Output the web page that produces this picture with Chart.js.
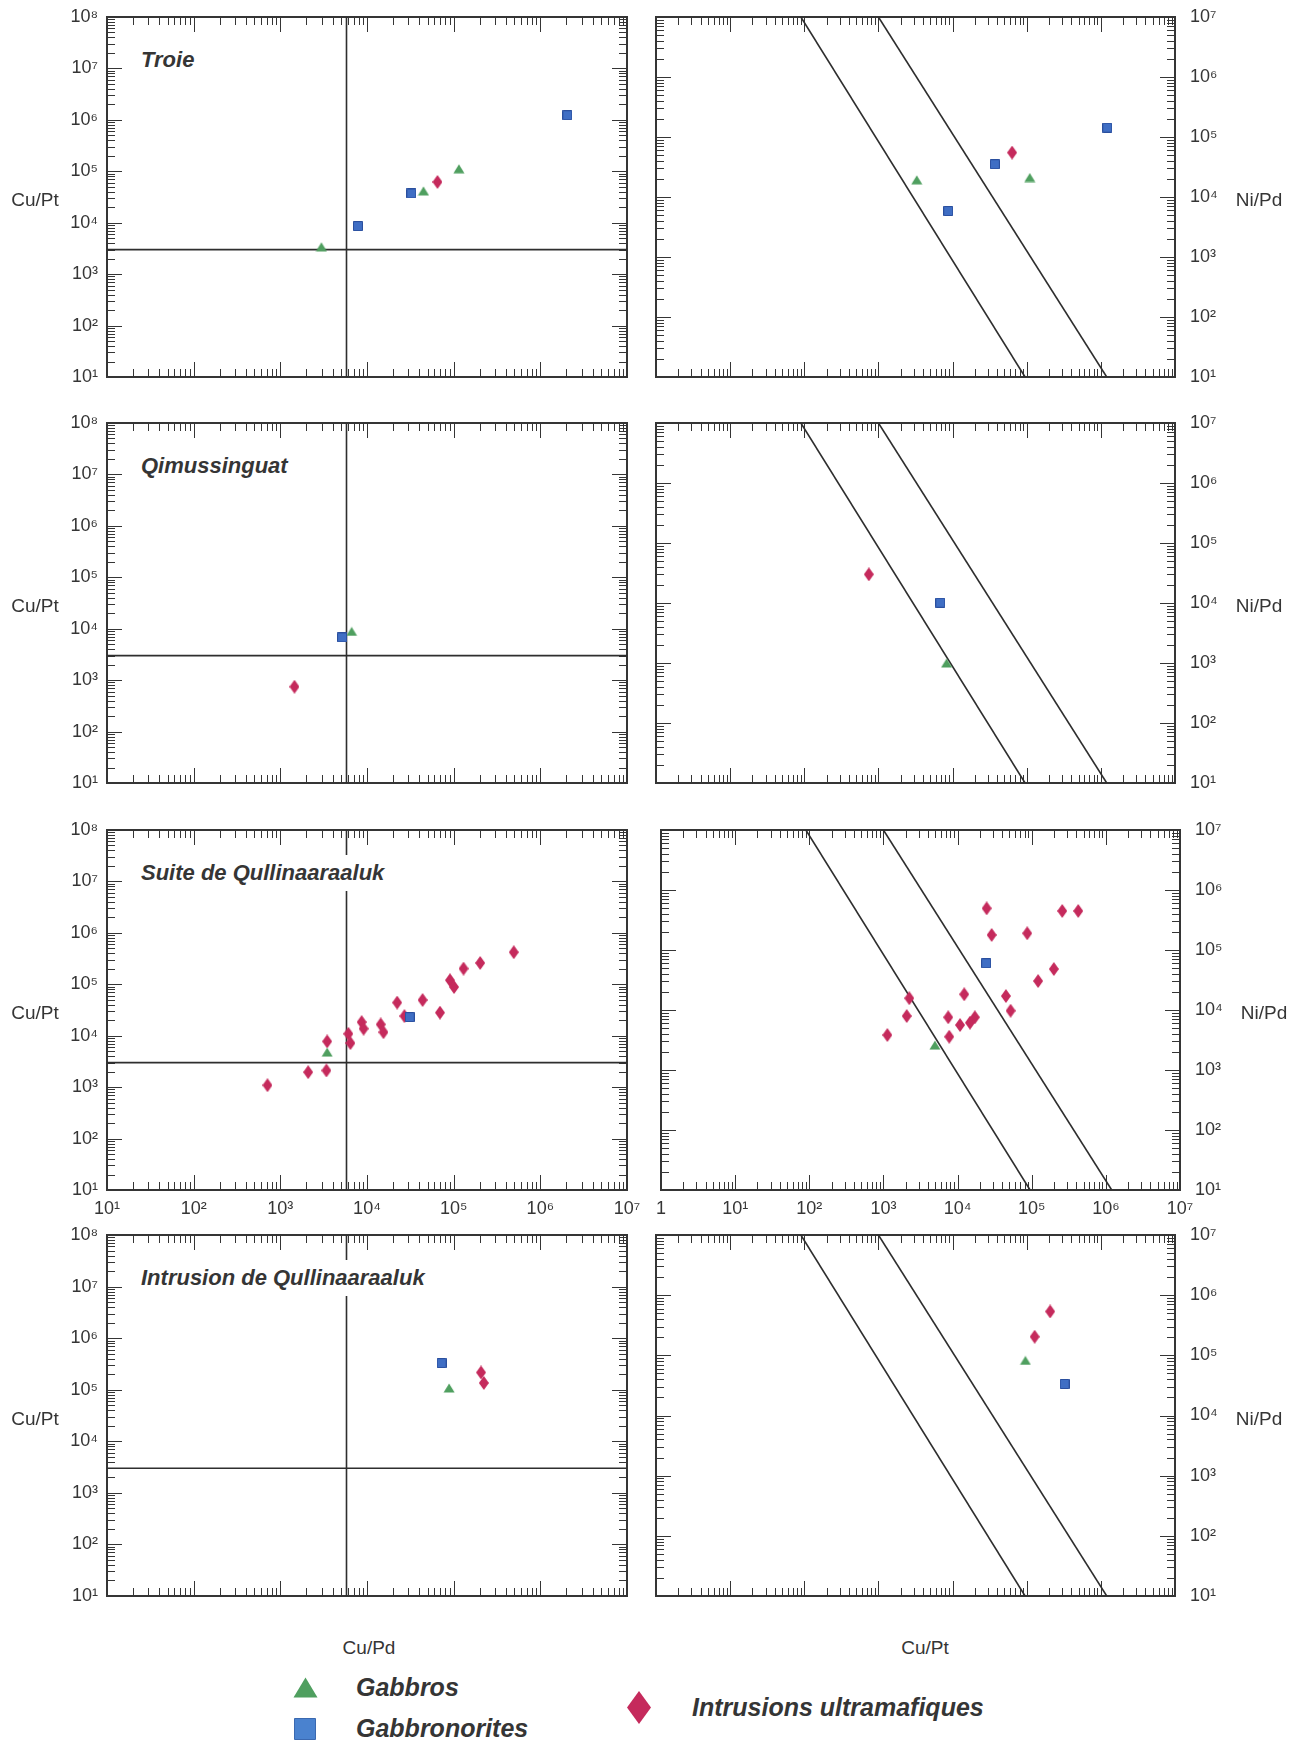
<!DOCTYPE html>
<html><head><meta charset="utf-8">
<script src="https://cdn.jsdelivr.net/npm/chart.js@4.4.1/dist/chart.umd.min.js"></script>
<style>
html,body{margin:0;padding:0;background:#fff;}
body{width:1299px;height:1740px;position:relative;overflow:hidden;font-family:"Liberation Sans",Arial,sans-serif;color:#353535;}
.t{position:absolute;white-space:nowrap;}
.title{font-weight:bold;font-style:italic;font-size:22px;background:#fff;line-height:36px;padding:0 4px;}
.ax{font-size:19px;transform:translate(-50%,-50%);}
.leg{font-weight:bold;font-style:italic;font-size:25px;transform:translateY(-50%);}
</style></head><body>
<script>
// ---------------- DATA ----------------
const panelNames = ['Troie', 'Qimussinguat', 'Suite de Qullinaaraaluk', 'Intrusion de Qullinaaraaluk'];
const seriesNames = ['Gabbros', 'Gabbronorites', 'Intrusions ultramafiques'];

const cuPdTicks = [1e1, 1e2, 1e3, 1e4, 1e5, 1e6, 1e7];          // left x
const cuPtTicksLeft = [1e1, 1e2, 1e3, 1e4, 1e5, 1e6, 1e7, 1e8];  // left y
const cuPtTicksRight = [1, 1e1, 1e2, 1e3, 1e4, 1e5, 1e6, 1e7];  // right x
const niPdTicks = [1e1, 1e2, 1e3, 1e4, 1e5, 1e6, 1e7];          // right y

const mantleCuPd = 5800;   // vertical reference line (left panels)
const mantleCuPt = 3000;   // horizontal reference line (left panels)
const diag1CuPt = [90, 95000];   const diag1NiPd = [1e7, 1e1];
const diag2CuPt = [1000, 1.2e6]; const diag2NiPd = [1e7, 1e1];

// Troie
const troieGabCuPd = [2980, 44800, 115000];
const troieGabCuPt = [3400, 41600, 112000];
const troieGnCuPd = [7850, 32500, 2.05e6];
const troieGnCuPt = [8600, 37000, 1.23e6];
const troieUmCuPd = [65000];
const troieUmCuPt = [62000];
const troieGabCuPt2 = [3290, 110000];
const troieGabNiPd = [19300, 21100];
const troieGnCuPt2 = [8740, 37200, 1.22e6];
const troieGnNiPd = [5830, 35200, 143000];
const troieUmCuPt2 = [63500];
const troieUmNiPd = [55000];

// Qimussinguat
const qimGabCuPd = [6650];
const qimGabCuPt = [8870];
const qimGnCuPd = [5160];
const qimGnCuPt = [6780];
const qimUmCuPd = [1455];
const qimUmCuPt = [745];
const qimGabCuPt2 = [8300];
const qimGabNiPd = [1000];
const qimGnCuPt2 = [6830];
const qimGnNiPd = [10100];
const qimUmCuPt2 = [743];
const qimUmNiPd = [30000];

// Suite de Qullinaaraaluk
const suiteGabCuPd = [3470];
const suiteGabCuPt = [4800];
const suiteGnCuPd = [31100];
const suiteGnCuPt = [23000];
const suiteUmCuPd = [711, 2094, 3400, 3470, 6090, 6440, 8670, 9140, 14400, 15500, 22300, 27000, 43800, 69500, 90600, 101000, 130000, 202000, 494000];
const suiteUmCuPt = [1090, 1955, 2110, 7740, 10900, 7180, 18400, 13700, 16600, 11700, 44000, 24100, 49400, 28100, 120000, 88500, 202000, 260000, 420000];
const suiteGabCuPt2 = [4950];
const suiteGabNiPd = [2600];
const suiteGnCuPt2 = [24300];
const suiteGnNiPd = [60000];
const suiteUmCuPt2 = [24700, 258000, 424000, 28800, 86900, 199000, 122000, 12300, 44900, 2230, 51900, 2060, 7480, 17100, 14700, 10800, 1130, 7710];
const suiteUmNiPd = [495000, 447000, 447000, 178000, 190000, 48200, 30400, 18300, 17100, 15700, 9730, 7940, 7560, 7560, 6140, 5620, 3830, 3590];

// Intrusion de Qullinaaraaluk
const intrGabCuPd = [88500];
const intrGabCuPt = [108000];
const intrGnCuPd = [72600];
const intrGnCuPt = [328000];
const intrUmCuPd = [207000, 223000];
const intrUmCuPt = [216000, 135000];
const intrGabCuPt2 = [96000];
const intrGabNiPd = [82400];
const intrGnCuPt2 = [324000];
const intrGnNiPd = [33400];
const intrUmCuPt2 = [207000, 128000];
const intrUmNiPd = [536000, 204000];

// ---------------- STYLE / LAYOUT ----------------
const FONT = '"Liberation Sans", Arial, sans-serif';
const INK = '#353535';
const GREEN = '#4f9f5f', BLUE = '#3f6ec4', BLUE_EDGE = '#2a4f9e', RED = '#c52a5c';
const rowTop = [17, 423, 830, 1235];
const rowH = [360, 360, 360, 361];
const leftArea = {x: 107, w: 520};
const rightAreaX = [656, 656, 661, 656];
const rightAreaW = 519;
const PADT = 32, AXH = 30;

function pts(xs, ys) { return xs.map((x, i) => ({x: x, y: ys[i]})); }
const SUP = {'0':'\u2070','1':'\u00b9','2':'\u00b2','3':'\u00b3','4':'\u2074','5':'\u2075','6':'\u2076','7':'\u2077','8':'\u2078','9':'\u2079'};
function powLabel(v) {
  const e = Math.round(Math.log10(v));
  if (e === 0) return '1';
  return '10' + String(e).split('').map(c => SUP[c]).join('');
}

function markerCanvas(shape, w, h, fill, stroke) {
  const c = document.createElement('canvas');
  c.width = w; c.height = h;
  const g = c.getContext('2d');
  g.fillStyle = fill;
  g.beginPath();
  if (shape === 'tri') { g.moveTo(w / 2, 0.5); g.lineTo(w - 0.5, h - 0.5); g.lineTo(0.5, h - 0.5); }
  else if (shape === 'sq') { g.rect(0.5, 0.5, w - 1, h - 1); }
  else { g.moveTo(w / 2, 0); g.lineTo(w, h / 2); g.lineTo(w / 2, h); g.lineTo(0, h / 2); }
  g.closePath(); g.fill();
  if (stroke) { g.strokeStyle = stroke; g.lineWidth = 1; g.stroke(); }
  return c;
}
const triImg = markerCanvas('tri', 12, 10, GREEN);
const sqImg = markerCanvas('sq', 10, 10, BLUE, BLUE_EDGE);
const diaImg = markerCanvas('dia', 10, 14, RED);

function logMarks(min, max) {
  const out = [];
  const e0 = Math.floor(Math.log10(min) + 1e-9), e1 = Math.ceil(Math.log10(max) - 1e-9);
  for (let e = e0; e <= e1; e++) {
    for (let k = 1; k < 10; k++) {
      const v = k * Math.pow(10, e);
      if (v < min * 0.9999 || v > max * 1.0001) continue;
      out.push({v: v, major: k === 1});
    }
  }
  return out;
}

const frameTicks = {
  id: 'frameTicks',
  beforeDatasetsDraw(chart) {
    const ctx = chart.ctx, a = chart.chartArea, xs = chart.scales.x, ys = chart.scales.y;
    ctx.save();
    ctx.strokeStyle = INK; ctx.lineWidth = 1;
    ctx.beginPath();
    for (const m of logMarks(xs.min, xs.max)) {
      const p = Math.round(xs.getPixelForValue(m.v)) + 0.5, L = m.major ? 15 : 8;
      ctx.moveTo(p, a.bottom); ctx.lineTo(p, a.bottom - L);
      ctx.moveTo(p, a.top); ctx.lineTo(p, a.top + L);
    }
    for (const m of logMarks(ys.min, ys.max)) {
      const p = Math.round(ys.getPixelForValue(m.v)) + 0.5, L = m.major ? 15 : 8;
      ctx.moveTo(a.left, p); ctx.lineTo(a.left + L, p);
      ctx.moveTo(a.right, p); ctx.lineTo(a.right - L, p);
    }
    ctx.stroke();
    ctx.lineWidth = 2;
    ctx.strokeRect(a.left, a.top, a.right - a.left, a.bottom - a.top);
    ctx.restore();
  }
};

function pointDS(label, data, img, order) {
  return {label: label, data: data, pointStyle: img, pointRadius: 5, showLine: false, order: order};
}
function lineDS(data) {
  return {label: 'ref', data: data, showLine: true, pointRadius: 0, borderColor: '#2e2e2e', borderWidth: 1.6, order: 10, fill: false};
}

function addChart(c) {
  const cv = document.createElement('canvas');
  cv.width = c.cw; cv.height = c.ch;
  cv.style.position = 'absolute';
  cv.style.left = c.cl + 'px'; cv.style.top = c.ct + 'px';
  cv.style.width = c.cw + 'px'; cv.style.height = c.ch + 'px';
  document.body.appendChild(cv);
  const tickFont = {family: FONT, size: 18};
  new Chart(cv, {
    type: 'scatter',
    data: {datasets: c.datasets},
    options: {
      responsive: false, animation: false, devicePixelRatio: 1, events: [],
      layout: {padding: c.pad},
      plugins: {legend: {display: false}, tooltip: {enabled: false}},
      scales: {
        x: {
          type: 'logarithmic', position: 'bottom', min: c.xTicks[0], max: c.xTicks[c.xTicks.length - 1],
          grid: {display: false, drawTicks: false}, border: {display: false},
          afterBuildTicks: s => { s.ticks = c.xTicks.map(v => ({value: v})); },
          afterFit: s => { s.height = AXH; },
          ticks: {display: c.showX, autoSkip: false, maxRotation: 0, minRotation: 0, padding: 8, color: INK, font: tickFont, callback: v => powLabel(v)}
        },
        y: {
          type: 'logarithmic', position: c.ySide, min: c.yTicks[0], max: c.yTicks[c.yTicks.length - 1],
          grid: {display: false, drawTicks: false}, border: {display: false},
          afterBuildTicks: s => { s.ticks = c.yTicks.map(v => ({value: v})); },
          afterFit: s => { s.width = c.yW; },
          ticks: {autoSkip: false, padding: c.yPad, color: INK, font: tickFont, callback: v => powLabel(v)}
        }
      }
    },
    plugins: [frameTicks]
  });
}

function addText(cls, text, x, y) {
  const d = document.createElement('div');
  d.className = 't ' + cls;
  d.textContent = text;
  d.style.left = x + 'px'; d.style.top = y + 'px';
  document.body.appendChild(d);
  return d;
}

const leftSets = [
  [troieGabCuPd, troieGabCuPt, troieGnCuPd, troieGnCuPt, troieUmCuPd, troieUmCuPt],
  [qimGabCuPd, qimGabCuPt, qimGnCuPd, qimGnCuPt, qimUmCuPd, qimUmCuPt],
  [suiteGabCuPd, suiteGabCuPt, suiteGnCuPd, suiteGnCuPt, suiteUmCuPd, suiteUmCuPt],
  [intrGabCuPd, intrGabCuPt, intrGnCuPd, intrGnCuPt, intrUmCuPd, intrUmCuPt]
];
const rightSets = [
  [troieGabCuPt2, troieGabNiPd, troieGnCuPt2, troieGnNiPd, troieUmCuPt2, troieUmNiPd],
  [qimGabCuPt2, qimGabNiPd, qimGnCuPt2, qimGnNiPd, qimUmCuPt2, qimUmNiPd],
  [suiteGabCuPt2, suiteGabNiPd, suiteGnCuPt2, suiteGnNiPd, suiteUmCuPt2, suiteUmNiPd],
  [intrGabCuPt2, intrGabNiPd, intrGnCuPt2, intrGnNiPd, intrUmCuPt2, intrUmNiPd]
];

for (let r = 0; r < 4; r++) {
  const top = rowTop[r], h = rowH[r];
  const L = leftSets[r];
  const xMinL = cuPdTicks[0], xMaxL = cuPdTicks[cuPdTicks.length - 1];
  const yMinL = cuPtTicksLeft[0], yMaxL = cuPtTicksLeft[cuPtTicksLeft.length - 1];
  addChart({
    cl: 0, ct: top - PADT, cw: leftArea.x + leftArea.w + 30, ch: h + PADT + AXH,
    pad: {top: PADT, right: 30, left: 0, bottom: 0},
    xTicks: cuPdTicks, yTicks: cuPtTicksLeft, ySide: 'left', yW: leftArea.x, yPad: 9, showX: r === 2,
    datasets: [
      pointDS(seriesNames[1], pts(L[2], L[3]), sqImg, 1),
      pointDS(seriesNames[0], pts(L[0], L[1]), triImg, 2),
      pointDS(seriesNames[2], pts(L[4], L[5]), diaImg, 3),
      lineDS(pts([mantleCuPd, mantleCuPd], [yMinL, yMaxL])),
      lineDS(pts([xMinL, xMaxL], [mantleCuPt, mantleCuPt]))
    ]
  });
  const R = rightSets[r];
  const rx = rightAreaX[r];
  addChart({
    cl: rx - 30, ct: top - PADT, cw: rightAreaW + 30 + 70, ch: h + PADT + AXH,
    pad: {top: PADT, right: 0, left: 30, bottom: 0},
    xTicks: cuPtTicksRight, yTicks: niPdTicks, ySide: 'right', yW: 70, yPad: 15, showX: r === 2,
    datasets: [
      pointDS(seriesNames[1], pts(R[2], R[3]), sqImg, 1),
      pointDS(seriesNames[0], pts(R[0], R[1]), triImg, 2),
      pointDS(seriesNames[2], pts(R[4], R[5]), diaImg, 3),
      lineDS(pts(diag1CuPt, diag1NiPd)),
      lineDS(pts(diag2CuPt, diag2NiPd))
    ]
  });
  addText('title', panelNames[r], 137, top + 25);
  addText('ax', 'Cu/Pt', 35, top + h / 2 + 3);
  addText('ax', 'Ni/Pd', 1259 + (rx - 656), top + h / 2 + 3);
}

addText('ax', 'Cu/Pd', 369, 1648);
addText('ax', 'Cu/Pt', 925, 1648);

// legend
function legendMarker(shape, w, h, fill, stroke, cx, cy) {
  const c = markerCanvas(shape, w, h, fill, stroke);
  c.style.position = 'absolute';
  c.style.left = (cx - w / 2) + 'px'; c.style.top = (cy - h / 2) + 'px';
  document.body.appendChild(c);
}
legendMarker('tri', 25, 21, GREEN, null, 305, 1687);
legendMarker('sq', 22, 22, '#4a82cf', '#3a68b0', 305, 1729);
legendMarker('dia', 24, 33, RED, null, 639, 1707);
addText('leg', seriesNames[0], 356, 1687);
addText('leg', seriesNames[1], 356, 1728);
addText('leg', seriesNames[2], 692, 1707);
</script>
</body></html>
